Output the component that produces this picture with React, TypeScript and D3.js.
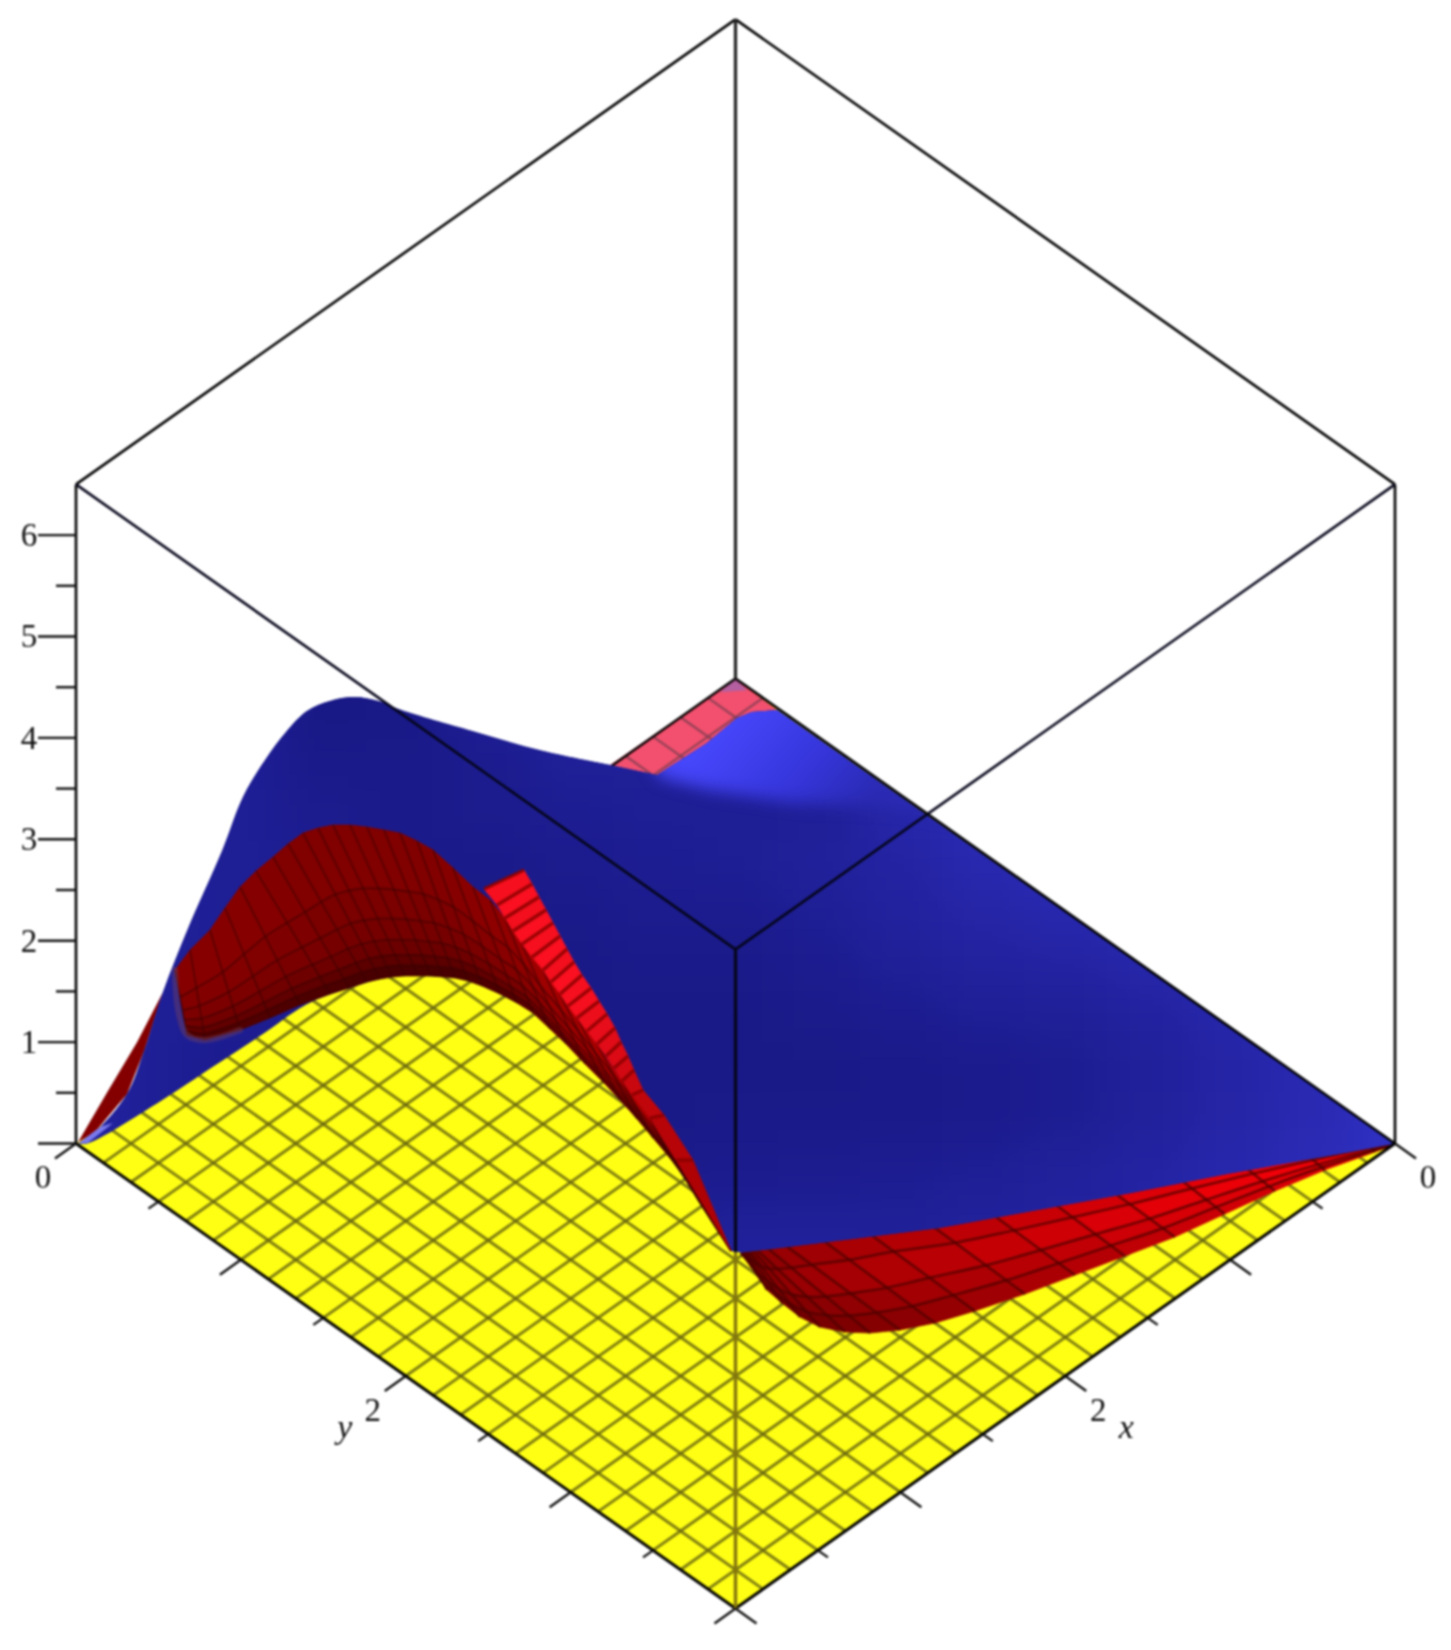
import React from "react";
import * as d3 from "d3";

// ---------- axis values ----------
const xTickValues = [0, 0.5, 1, 1.5, 2, 2.5, 3, 3.5, 4];
const yTickValues = [0, 0.5, 1, 1.5, 2, 2.5, 3, 3.5, 4];
const zTickValues = [0, 0.5, 1, 1.5, 2, 2.5, 3, 3.5, 4, 4.5, 5, 5.5, 6];
const zLabels = [1, 2, 3, 4, 5, 6];
const xLabels = [0, 2];
const yLabels = [0, 2];
const floorGridCount = 24;

// ---------- outlines read against the axes: d = y - x along the diagonal, z = axis height ----------
const blueSilhouetteD = [-3.987, -3.89, -3.69, -3.587, -3.472, -3.314, -3.114, -2.987, -2.853, -2.726, -2.599, -2.459, -2.313, -2.168, -2.028, -1.598, -1.167, -0.761];
const blueSilhouetteZ = [0, 0.104, 0.488, 0.912, 1.494, 2.145, 2.884, 3.417, 3.782, 4.058, 4.265, 4.364, 4.403, 4.364, 4.275, 4.068, 3.871, 3.733];
const blueBackD = [-0.761, -0.476, -0.173, 0.009, 0.1, 0.252, 4];
const blueBackZ = [3.733, 3.634, 3.95, 4.196, 4.255, 4.275, 0];
const blueFrontD = [4, 3.705, 2.981, 2.398, 1.816, 1.237, 0.658, 0.033, -0.024];
const blueFrontZ = [0, -0.09, -0.301, -0.488, -0.661, -0.833, -0.952, -1.076, -1.06];
const blueArcD = [-0.024, -0.227, -0.397, -0.597, -0.797, -1.028, -1.228, -1.428, -1.659, -1.883, -2.113, -2.344, -2.599, -2.859, -3.174, -3.487, -3.933, -3.987];
const blueArcZ = [-1.06, -0.557, -0.143, 0.242, 0.597, 0.981, 1.287, 1.474, 1.622, 1.652, 1.637, 1.533, 1.376, 1.09, 0.754, 0.419, 0, 0];

// brightness of the blue sheet: rows from z = 4.75 down to -1.25, columns from d = -4 to 4
const blueShadeColumns = [-4, -3.5, -3, -2.5, -2, -1.5, -1, -0.5, 0, 0.5, 1, 1.5, 2, 2.5, 3, 3.5, 4];
const blueShadeRows = [4.75, 4.25, 3.75, 3.25, 2.75, 2.25, 1.75, 1.25, 0.75, 0.25, -0.25, -0.75, -1.25];
const blueShade = [
  [0.2, 0.2, 0.2, 0.1, 0.1, 0.2, 0.25, 0.25, 0.25, 0.3, 0.4, 0.5, 0.5, 0.5, 0.5, 0.5, 0.5],
  [0.2, 0.2, 0.2, 0.08, 0.1, 0.2, 0.25, 0.25, 0.25, 0.3, 0.4, 0.5, 0.5, 0.5, 0.5, 0.5, 0.5],
  [0.2, 0.2, 0.2, 0.12, 0.12, 0.15, 0.22, 0.22, 0.2, 0.22, 0.35, 0.5, 0.5, 0.5, 0.5, 0.5, 0.5],
  [0.2, 0.2, 0.2, 0.15, 0.12, 0.15, 0.18, 0.2, 0.2, 0.22, 0.35, 0.45, 0.5, 0.5, 0.5, 0.5, 0.5],
  [0.2, 0.2, 0.2, 0.18, 0.12, 0.12, 0.15, 0.18, 0.2, 0.25, 0.3, 0.4, 0.45, 0.5, 0.5, 0.5, 0.5],
  [0.2, 0.22, 0.2, 0.15, 0.12, 0.1, 0.12, 0.15, 0.15, 0.2, 0.27, 0.33, 0.38, 0.42, 0.5, 0.5, 0.5],
  [0.22, 0.22, 0.2, 0.15, 0.12, 0.1, 0.1, 0.12, 0.12, 0.16, 0.22, 0.27, 0.3, 0.35, 0.42, 0.5, 0.5],
  [0.25, 0.2, 0.18, 0.15, 0.12, 0.1, 0.1, 0.1, 0.1, 0.13, 0.16, 0.2, 0.22, 0.28, 0.36, 0.45, 0.5],
  [0.3, 0.2, 0.15, 0.12, 0.1, 0.1, 0.1, 0.1, 0.1, 0.1, 0.12, 0.14, 0.17, 0.24, 0.32, 0.42, 0.5],
  [0.3, 0.2, 0.15, 0.12, 0.1, 0.1, 0.1, 0.1, 0.12, 0.12, 0.12, 0.14, 0.18, 0.25, 0.33, 0.42, 0.55],
  [0.3, 0.2, 0.15, 0.12, 0.1, 0.1, 0.1, 0.13, 0.14, 0.15, 0.17, 0.2, 0.25, 0.3, 0.38, 0.45, 0.55],
  [0.3, 0.2, 0.15, 0.12, 0.1, 0.1, 0.12, 0.18, 0.22, 0.22, 0.22, 0.25, 0.28, 0.32, 0.38, 0.45, 0.55],
  [0.3, 0.2, 0.15, 0.12, 0.1, 0.1, 0.14, 0.22, 0.28, 0.28, 0.25, 0.28, 0.3, 0.34, 0.4, 0.45, 0.55],
];

// part of the blue sheet seen beyond the ridge (runs past the sheet's edge, which trims it)
const backLightD = [-0.6, -0.3, 0.0, 0.4, 1.5, 1.4, 0.955, 0.349, -0.155, -0.458];
const backLightZ = [4.0, 4.3, 4.7, 4.7, 3.4, 3.2, 3.318, 3.358, 3.486, 3.614];

// red hump: upper and lower end of each mesh column
const humpTopD = [-3.399, -3.308, -3.187, -3.096, -3.005, -2.908, -2.805, -2.714, -2.623, -2.532, -2.441, -2.338, -2.235, -2.132, -2.035, -1.931, -1.834, -1.713, -1.592, -1.489, -1.398, -1.295, -1.167, -1.064, -0.961, -0.84, -0.688, -0.518, -0.361, -0.197, -0.027];
const humpTopZ = [1.711, 1.908, 2.105, 2.322, 2.53, 2.687, 2.825, 2.954, 3.062, 3.111, 3.141, 3.141, 3.121, 3.092, 3.062, 2.983, 2.894, 2.717, 2.53, 2.401, 2.224, 1.967, 1.711, 1.474, 1.238, 0.981, 0.616, 0.251, -0.163, -0.606, -1.06];
const humpBottomD = [-3.326, -3.217, -3.005, -2.823, -2.641, -2.459, -2.344, -2.235, -2.156, -2.083, -2.004, -1.925, -1.847, -1.774, -1.701, -1.622, -1.537, -1.428, -1.325, -1.228, -1.125, -1.028, -0.913, -0.797, -0.7, -0.597, -0.5, -0.397, -0.312, -0.227, -0.027];
const humpBottomZ = [1.07, 1.021, 1.119, 1.238, 1.366, 1.474, 1.533, 1.593, 1.622, 1.642, 1.652, 1.652, 1.652, 1.642, 1.632, 1.603, 1.553, 1.474, 1.386, 1.287, 1.129, 0.981, 0.784, 0.597, 0.429, 0.242, 0.054, -0.143, -0.33, -0.557, -1.06];
const humpRowStops = [0, 0.42, 0.62, 0.76, 0.86, 0.93, 1];
const humpRowShade = [0.52, 0.48, 0.44, 0.36, 0.24, 0.1];
const humpColumnLift = [0.05, 0.05, 0.05, 0.04, 0.03, 0.02, 0, 0, 0, 0, 0, 0, 0, 0, 0, 0.02, 0.04, 0.07, 0.1, 0.14, 0.18, 0.22, 0.26, 0.3, 0.3, 0.3, 0.3, 0.25, 0.2, 0.15];
const humpEdgeD = [-3.399, -3.38, -3.326, -3.217, -3.005];
const humpEdgeZ = [1.711, 1.31, 1.07, 1.021, 1.119];

// bright red sliver beside the blue sheet
const sliverOuterD = [-1.283, -1.234, -1.192, -1.149, -1.107, -1.064, -1.022, -0.979, -0.931, -0.876, -0.828, -0.779, -0.731, -0.694, -0.652, -0.616, -0.561, -0.434, -0.258, -0.027];
const sliverOuterZ = [2.697, 2.559, 2.431, 2.303, 2.175, 2.046, 1.918, 1.79, 1.662, 1.533, 1.405, 1.277, 1.139, 1.001, 0.863, 0.725, 0.528, 0.281, -0.163, -1.06];
const sliverInnerD = [-1.525, -1.446, -1.398, -1.349, -1.295, -1.234, -1.167, -1.119, -1.064, -1.016, -0.961, -0.901, -0.84, -0.785, -0.737, -0.688, -0.628, -0.518, -0.361, -0.027];
const sliverInnerZ = [2.51, 2.352, 2.224, 2.096, 1.967, 1.839, 1.711, 1.593, 1.474, 1.356, 1.238, 1.109, 0.981, 0.863, 0.745, 0.616, 0.478, 0.251, -0.163, -1.06];
const sliverShade = [0.95, 1, 0.92, 1, 0.95, 1, 0.92, 1, 0.96, 0.95, 0.85, 0.8, 0.72, 0.65, 0.55, 0.45, 0.35, 0.25, 0.15];

// red patch at the lower right, under the blue sheet
const patchBottomD = [0.033, 0.1, 0.191, 0.282, 0.391, 0.512, 0.664, 0.816, 0.998, 1.21, 1.452, 1.756, 2.059, 2.362, 2.665, 2.968, 3.272, 3.575, 3.878, 3.987];
const patchBottomZ = [-1.08, -1.228, -1.445, -1.573, -1.711, -1.81, -1.859, -1.869, -1.839, -1.77, -1.652, -1.484, -1.297, -1.109, -0.922, -0.695, -0.468, -0.261, -0.084, -0.015];
const patchTopD = [0.033, 0.045, 0.058, 0.07, 0.082, 0.1, 0.118, 0.179, 0.282, 0.518, 0.797, 1.192, 1.568, 1.938, 2.301, 2.702, 3.096, 3.481, 3.848, 3.987];
const patchTopZ = [-1.08, -1.06, -1.05, -1.05, -1.05, -1.04, -1.03, -1.01, -0.98, -0.94, -0.87, -0.81, -0.71, -0.6, -0.49, -0.36, -0.24, -0.13, -0.03, -0.015];
const patchRowStops = [0, 0.25, 0.58, 0.8, 1];
const patchRowLift = [0.05, 0.1, 0, -0.1];
const patchColumnShade = [0, 0.03, 0.06, 0.1, 0.14, 0.18, 0.22, 0.27, 0.32, 0.4, 0.48, 0.56, 0.64, 0.72, 0.8, 0.86, 0.92, 0.96, 1];

// small pieces at the two corners
const stripD = [-3.987, -3.817, -3.629, -3.472, -3.587, -3.69, -3.89];
const stripZ = [0.015, 0.488, 1.001, 1.494, 0.912, 0.488, 0.104];
const cornerD = [-3.987, -3.933, -3.775, -3.854];
const cornerZ = [0, 0, 0.202, 0.163];
const pinkD = [-0.003, 0.252, 0.1, 0.009, -0.173, -0.476, -0.62, -0.761];
const pinkZ = [4.586, 4.275, 4.2, 4.15, 3.9, 3.55, 3.55, 3.733];
const lilacD = [-0.003, 0.07, -0.094];
const lilacZ = [4.586, 4.47, 4.45];
const pinkGridX = [1 / 6, 2 / 6, 3 / 6, 4 / 6];
const pinkRowY = 1 / 6;

// ---------- scales ----------
const W = 1451;
const H = 1650;
const dScale = d3.scaleLinear().domain([-4, 4]).range([76, 1395]);
const zScale = d3.scaleLinear().domain([0, 6.5]).range([1143.5, 484.4]);
const sScale = d3.scaleLinear().domain([0, 8]).range([678.5, 1608.5]);
type P = [number, number];
const project = (x: number, y: number, z: number): P => [
  dScale(y - x),
  sScale(x + y) + zScale(z) - zScale(0),
];
const sheet = (ds: number[], zs: number[]): P[] => ds.map((d, i) => [dScale(d), zScale(zs[i])] as P);
const line = d3.line<P>();
const smooth = d3.line<P>().curve(d3.curveCatmullRom);
const closed = (pts: P[]) => line(pts)! + "Z";
const joined = (parts: string[]) => parts.map((p, i) => (i === 0 ? p : p.replace(/^M/, "L"))).join("") + "Z";
const mix = (a: P, b: P, t: number): P => [a[0] + (b[0] - a[0]) * t, a[1] + (b[1] - a[1]) * t];

const blueRamp = d3.interpolateRgb("#14147a", "#4646ff");
const redRamp = d3.interpolateRgb("#3c0000", "#c00000");
const patchRamp = d3.interpolateRgb("#6e0000", "#f00008");
const sliverRamp = d3.interpolateRgb("#a00000", "#fa1020");

const bluePath = joined([
  smooth(sheet(blueSilhouetteD, blueSilhouetteZ))!,
  line(sheet(blueBackD, blueBackZ))!,
  line(sheet(blueFrontD, blueFrontZ))!,
  smooth(sheet(blueArcD, blueArcZ))!,
]);
const humpTop = sheet(humpTopD, humpTopZ);
const humpBottom = sheet(humpBottomD, humpBottomZ);
const sliverOuter = sheet(sliverOuterD, sliverOuterZ);
const sliverInner = sheet(sliverInnerD, sliverInnerZ);
const patchTop = sheet(patchTopD, patchTopZ);
const patchBottom = sheet(patchBottomD, patchBottomZ);

type Cell = { d: string; fill: string };
const meshCells = (
  top: P[],
  bottom: P[],
  stops: number[],
  colour: (col: number, row: number) => string
): Cell[] => {
  const out: Cell[] = [];
  for (let c = 0; c < top.length - 1; c++) {
    for (let r = 0; r < stops.length - 1; r++) {
      out.push({
        d: closed([
          mix(top[c], bottom[c], stops[r]),
          mix(top[c + 1], bottom[c + 1], stops[r]),
          mix(top[c + 1], bottom[c + 1], stops[r + 1]),
          mix(top[c], bottom[c], stops[r + 1]),
        ]),
        fill: colour(c, r),
      });
    }
  }
  return out;
};
const rowLines = (top: P[], bottom: P[], stops: number[]) =>
  stops.map((t) => smooth(top.map((p, i) => mix(p, bottom[i], t)))!);
const columnLines = (top: P[], bottom: P[]) => top.map((p, i) => line([p, bottom[i]])!);

const humpCells = meshCells(humpTop, humpBottom, humpRowStops, (c, r) =>
  redRamp(Math.min(1, humpRowShade[r] + humpColumnLift[c]))
);
const patchCells = meshCells(patchTop, patchBottom, patchRowStops, (c, r) =>
  patchRamp(Math.max(0, Math.min(1, patchColumnShade[c] + patchRowLift[r])))
);
const sliverCells = meshCells(sliverOuter, sliverInner, [0, 1], (c) => sliverRamp(sliverShade[c]));

const tick = (p: P, dx: number, dy: number) => line([p, [p[0] + dx, p[1] + dy]])!;
const TICK_MAJOR: P = [21, 15];
const TICK_MINOR: P = [10, 7];
const SERIF = "'Liberation Serif', 'Times New Roman', serif";

const Cells = ({ cells }: { cells: Cell[] }) => (
  <>
    {cells.map((c, i) => (
      <path key={i} d={c.d} fill={c.fill} stroke={c.fill} strokeWidth={0.7} />
    ))}
  </>
);

export default function App() {
  const floorLines: string[] = [];
  for (let i = 1; i < floorGridCount; i++) {
    const t = (i / floorGridCount) * 4;
    floorLines.push(line([project(t, 0, 0), project(t, 4, 0)])!);
    floorLines.push(line([project(0, t, 0), project(4, t, 0)])!);
  }
  const colW = dScale(0.5) - dScale(0);
  const rowH = zScale(0) - zScale(0.5);
  const top = project(0, 0, 6.5);
  const back = project(0, 0, 0);
  const left = project(4, 0, 0);
  const right = project(0, 4, 0);
  const bottom = project(4, 4, 0);
  const leftTop = project(4, 0, 6.5);
  const rightTop = project(0, 4, 6.5);
  const front = project(4, 4, 6.5);
  const blueExit: P = [dScale(0), zScale(-1.07)];

  return (
    <svg
      width={W}
      height={H}
      viewBox={`0 0 ${W} ${H}`}
      style={{ position: "absolute", left: 0, top: 0, display: "block", background: "#fff" }}
    >
      <defs>
        <filter id="soft" x="0" y="0" width={W} height={H} filterUnits="userSpaceOnUse" colorInterpolationFilters="sRGB">
          <feGaussianBlur stdDeviation={0.8} />
        </filter>
        <filter id="wash" x="0" y="500" width={W} height={1000} filterUnits="userSpaceOnUse" colorInterpolationFilters="sRGB">
          <feGaussianBlur stdDeviation={24} />
        </filter>
        <filter id="haze" x="500" y="560" width={700} height={340} filterUnits="userSpaceOnUse" colorInterpolationFilters="sRGB">
          <feGaussianBlur stdDeviation={8} />
        </filter>
        <linearGradient id="backGlow" gradientUnits="userSpaceOnUse" x1={dScale(0.05)} y1={zScale(4.3)} x2={dScale(0.75)} y2={zScale(3.3)}>
          <stop offset="0" stopColor="#4646fa" />
          <stop offset="0.55" stopColor="#3636dc" />
          <stop offset="1" stopColor="#2a2ab4" />
        </linearGradient>
        <clipPath id="blueClip">
          <path d={bluePath} />
        </clipPath>
      </defs>
      <g filter="url(#soft)">
        {/* floor */}
        <path d={closed([back, right, bottom, left])} fill="#ffff14" />
        <g fill="none" stroke="#6b680f" strokeWidth={3} strokeOpacity={0.85}>
          {floorLines.map((d, i) => (
            <path key={i} d={d} />
          ))}
        </g>

        {/* back corner */}
        <path d={closed(sheet(pinkD, pinkZ))} fill="#f2506e" />
        <path d={closed(sheet(lilacD, lilacZ))} fill="#b45fa0" />
        <g fill="none" stroke="#7c3c50" strokeWidth={2.2} strokeOpacity={0.8}>
          {pinkGridX.map((x) => (
            <path key={x} d={line([project(x, 0, 0), project(x, 0.3, 0)])!} />
          ))}
          <path d={line([project(0, pinkRowY, 0), project(0.8, pinkRowY, 0)])!} />
        </g>
        <path d={line([back, project(0.78, 0, 0)])!} stroke="#000" strokeWidth={2.4} fill="none" />

        {/* red under blue */}
        <path d={closed(sheet(stripD, stripZ))} fill="#840000" />
        <Cells cells={patchCells} />
        <g fill="none" stroke="#4e0000" strokeOpacity={0.75} strokeWidth={2.5}>
          {columnLines(patchTop, patchBottom).map((d, i) => (
            <path key={i} d={d} />
          ))}
          {rowLines(patchTop, patchBottom, [0.25, 0.58, 0.8]).map((d, i) => (
            <path key={i} d={d} />
          ))}
        </g>

        {/* blue sheet */}
        <g clipPath="url(#blueClip)">
          <rect x={0} y={500} width={W} height={1000} fill="#1c1c88" />
          <g filter="url(#wash)">
            {blueShade.map((row, r) =>
              row.map((v, c) => (
                <rect
                  key={`${r}-${c}`}
                  x={dScale(blueShadeColumns[c]) - colW / 2}
                  y={zScale(blueShadeRows[r]) - rowH / 2}
                  width={colW + 1}
                  height={rowH + 1}
                  fill={blueRamp(v)}
                />
              ))
            )}
          </g>
          <path d={closed(sheet(backLightD, backLightZ))} fill="url(#backGlow)" filter="url(#haze)" />
        </g>
        <path d={closed(sheet(cornerD, cornerZ))} fill="#7a7aee" />

        {/* red in front of blue */}
        <Cells cells={humpCells} />
        <g fill="none" stroke="#3a0000" strokeOpacity={0.6} strokeWidth={1.6}>
          {columnLines(humpTop, humpBottom).map((d, i) => (
            <path key={i} d={d} />
          ))}
          {rowLines(humpTop, humpBottom, humpRowStops.slice(1, -1)).map((d, i) => (
            <path key={i} d={d} />
          ))}
        </g>
        <path d={smooth(sheet(humpEdgeD, humpEdgeZ))!} fill="none" stroke="#704060" strokeOpacity={0.45} strokeWidth={6} strokeLinecap="round" />
        <Cells cells={sliverCells} />
        <g fill="none" stroke="#8a0000" strokeOpacity={0.85} strokeWidth={3.4}>
          {columnLines(sliverOuter, sliverInner).map((d, i) => (
            <path key={i} d={d} />
          ))}
        </g>

        {/* box */}
        <g fill="none" stroke="#000" strokeWidth={2.6}>
          <path d={line([top, leftTop])!} />
          <path d={line([top, rightTop])!} />
          <path d={line([leftTop, left])!} />
          <path d={line([rightTop, right])!} />
          <path d={line([back, right])!} />
          <path d={line([left, bottom])!} strokeWidth={3} />
          <path d={line([right, bottom])!} strokeWidth={3} />
          <path d={line([top, back])!} strokeWidth={3.2} stroke="#222" />
        </g>
        <g fill="none" stroke="#05051a" strokeWidth={2.6}>
          <path d={line([leftTop, front])!} />
          <path d={line([rightTop, front])!} />
          <path d={line([front, blueExit])!} strokeWidth={3.2} />
        </g>
        <path d={line([blueExit, bottom])!} fill="none" stroke="#86780c" strokeWidth={3.4} />

        {/* ticks */}
        <g fill="none" stroke="#111" strokeWidth={2.4}>
          {zTickValues.map((z) => (
            <path
              key={z}
              d={line([
                [dScale(-4), zScale(z)],
                [dScale(-4) - (Number.isInteger(z) ? 38 : 20), zScale(z)],
              ])!}
            />
          ))}
          {xTickValues.map((x) => {
            const m = Number.isInteger(x) ? TICK_MAJOR : TICK_MINOR;
            return <path key={x} d={tick(project(x, 4, 0), m[0], m[1])} />;
          })}
          {yTickValues.map((y) => {
            const m = Number.isInteger(y) ? TICK_MAJOR : TICK_MINOR;
            return <path key={y} d={tick(project(4, y, 0), -m[0], m[1])} />;
          })}
        </g>

        {/* labels */}
        <g fontFamily={SERIF} fontSize={33} fill="#111" textAnchor="middle">
          {zLabels.map((z) => (
            <text key={z} x={dScale(-4) - 47} y={zScale(z)} dy="0.33em">
              {z}
            </text>
          ))}
          {xLabels.map((x) => {
            const p = project(x, 4, 0);
            return (
              <text key={x} x={p[0] + 33} y={p[1] + 34} dy="0.33em">
                {x}
              </text>
            );
          })}
          {yLabels.map((y) => {
            const p = project(4, y, 0);
            return (
              <text key={y} x={p[0] - 33} y={p[1] + 34} dy="0.33em">
                {y}
              </text>
            );
          })}
          <text x={project(2, 4, 0)[0] + 61} y={project(2, 4, 0)[1] + 53} dy="0.25em" fontStyle="italic" fontSize={34}>
            x
          </text>
          <text x={project(4, 2, 0)[0] - 61} y={project(4, 2, 0)[1] + 53} dy="0.25em" fontStyle="italic" fontSize={34}>
            y
          </text>
        </g>
      </g>
    </svg>
  );
}
